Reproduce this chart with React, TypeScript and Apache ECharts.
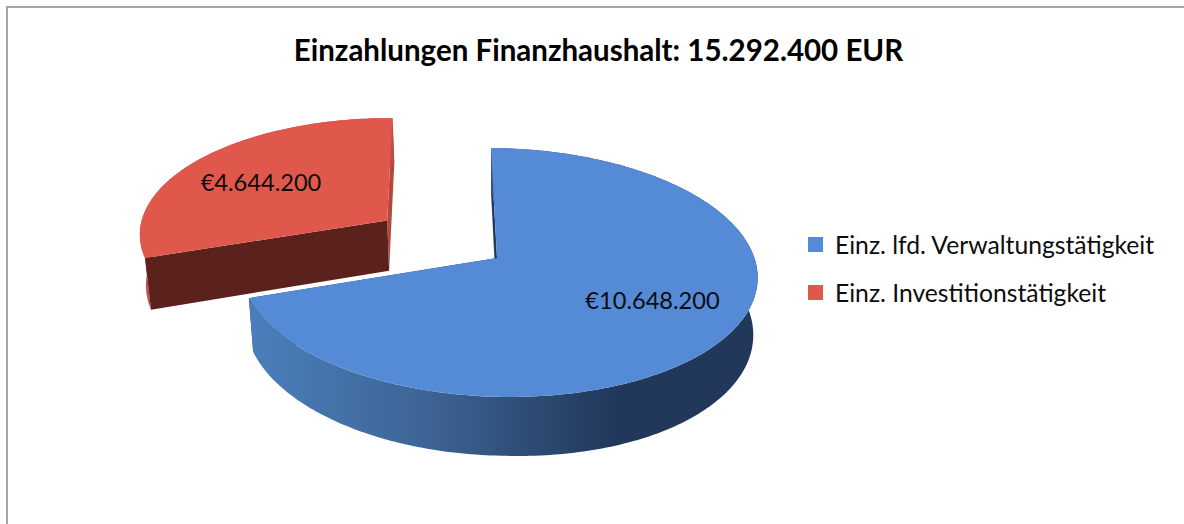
import React, { useEffect, useRef } from "react";
import * as echarts from "echarts";

const titleText = "Einzahlungen Finanzhaushalt: 15.292.400 EUR";
const categories = ["Einz. lfd. Verwaltungstätigkeit", "Einz. Investitionstätigkeit"];
const values = [10648200, 4644200];
const explode = [0, 0.535];
const topColors = ["#558bd6", "#e0584c"];
const startWallColors = ["#1f3a5f", "#5a211d"];
const endWallColors = ["#1f3a5f", "#b5483e"];
const startWallInFront = [false, true];
const labelPositions = [[652.5, 300], [261, 182]];

const FONT = "Lato, 'Open Sans', sans-serif";
const total = values.reduce((a, b) => a + b, 0);
const STEP = Math.PI / 180;
const DEPTH = 52;
const SHRINK = 0.983;

// Perspective projection of the pie's plane onto the page.
function project(u: number, v: number): [number, number] {
  const w = 1 - 0.1165 * v - 0.0057 * u;
  const x = (497 + 253.7 * u - 51.2 * v) / w;
  const y = (258 + 0.45 * u + 92.7 * v) / w;
  return [x, y];
}
function projectLow(u: number, v: number): [number, number] {
  const w = 1 - 0.1165 * v - 0.0057 * u;
  const [x, y] = project(u, v);
  return [500 + (x - 500) * SHRINK, y + (DEPTH + 4 * Math.max(u, 0)) / w];
}

function sliceElements(index: number, value: number) {
  const before = values.slice(0, index).reduce((a, b) => a + b, 0);
  const a0 = (before / total) * Math.PI * 2;
  const a1 = ((before + value) / total) * Math.PI * 2;
  const mid = (a0 + a1) / 2;
  const ox = Math.sin(mid) * explode[index];
  const oy = -Math.cos(mid) * explode[index];
  const rim: [number, number][] = [];
  const n = Math.max(2, Math.ceil((a1 - a0) / STEP));
  for (let i = 0; i <= n; i++) {
    const t = a0 + ((a1 - a0) * i) / n;
    rim.push([ox + Math.sin(t), oy - Math.cos(t)]);
  }
  const top = rim.map(([u, v]) => project(u, v));
  const low = rim.map(([u, v]) => projectLow(u, v));
  const apexTop = project(ox, oy);
  const apexLow = projectLow(ox, oy);
  const outerFill =
    index === 0
      ? new echarts.graphic.LinearGradient(0, 0, 1, 0, [
          { offset: 0, color: "#4b7fbc" },
          { offset: 0.35, color: "#3d6495" },
          { offset: 0.72, color: "#21385a" },
          { offset: 1, color: "#21385a" },
        ])
      : "#c04c41";
  const startWall = {
    type: "polygon",
    shape: { points: [top[0], low[0], apexLow, apexTop] },
    style: { fill: startWallColors[index] },
  };
  const endWall = {
    type: "polygon",
    shape: { points: [top[top.length - 1], low[low.length - 1], apexLow, apexTop] },
    style: { fill: endWallColors[index] },
  };
  const outerWall = {
    type: "polygon",
    shape: { points: [...top, ...low.slice().reverse()] },
    style: { fill: outerFill },
  };
  const children: any[] = [
    endWall,
    ...(startWallInFront[index] ? [outerWall, startWall] : [startWall, outerWall]),
    {
      type: "polygon",
      shape: { points: [apexTop, ...top] },
      style: { fill: topColors[index] },
    },
    {
      type: "text",
      style: {
        text: "€" + value.toLocaleString("de-DE"),
        x: labelPositions[index][0],
        y: labelPositions[index][1],
        align: "center",
        verticalAlign: "middle",
        fontFamily: FONT,
        fontSize: 23.6,
        fill: "#0d0d0d",
      },
    },
  ];
  return { type: "group", children };
}

export default function App() {
  const ref = useRef<HTMLDivElement>(null);
  useEffect(() => {
    const chart = echarts.init(ref.current!, null, { renderer: "svg" });
    chart.setOption({
      animation: false,
      backgroundColor: "#ffffff",
      title: {
        text: titleText,
        left: 593.5,
        top: 29,
        textAlign: "center",
        textStyle: { fontFamily: FONT, fontSize: 29.5, fontWeight: "bold", color: "#000000" },
      },
      legend: {
        left: 803,
        top: 227,
        orient: "vertical",
        icon: "rect",
        itemWidth: 15,
        itemHeight: 15,
        itemGap: 23,
        data: categories,
        textStyle: { fontFamily: FONT, fontSize: 24.7, color: "#0d0d0d", lineHeight: 23, padding: [0, 0, 2, 7] },
      },
      graphic: [
        {
          type: "rect",
          shape: { x: 7, y: 7, width: 1400, height: 800 },
          style: { fill: "none", stroke: "#a6a6a6", lineWidth: 2 },
          silent: true,
        },
      ],
      series: [1, 0].map((i) => ({
        type: "custom",
        name: categories[i],
        coordinateSystem: "none",
        itemStyle: { color: topColors[i] },
        data: [[values[i]]],
        renderItem: (_p: any, api: any) => sliceElements(i, api.value(0)),
      })),
    });
    return () => chart.dispose();
  }, []);
  return <div ref={ref} style={{ position: "fixed", left: 0, top: 0, width: 1184, height: 524 }} />;
}
